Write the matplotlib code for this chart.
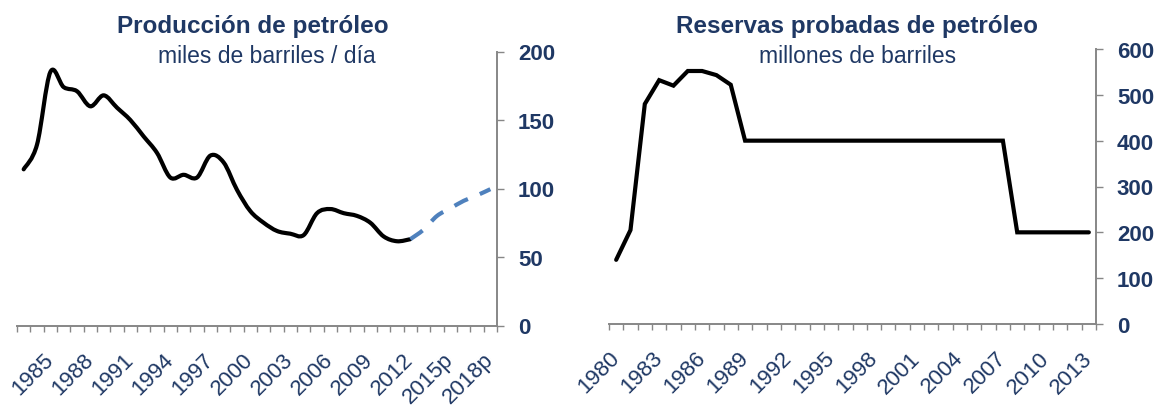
import matplotlib
matplotlib.use("Agg")
import matplotlib.pyplot as plt
from matplotlib.path import Path
from matplotlib.patches import PathPatch

plt.rcParams['font.family'] = ['Liberation Sans', 'DejaVu Sans']

# ---------------- data ----------------
prod_years = ['1983', '1984', '1985', '1986', '1987', '1988', '1989', '1990', '1991', '1992',
              '1993', '1994', '1995', '1996', '1997', '1998', '1999', '2000', '2001', '2002',
              '2003', '2004', '2005', '2006', '2007', '2008', '2009', '2010', '2011', '2012',
              '2013p', '2014p', '2015p', '2016p', '2017p', '2018p']
prod_hist = [114, 132, 185, 174, 171, 160, 168, 159, 150, 138,
             126, 108, 110, 108, 124, 119, 99, 83.5, 75, 69,
             67, 66, 82, 85, 82, 80, 75, 65, 61.5, 63]
prod_proj = [63, 70, 80, 85.5, 91, 95, 99.5]   # 2012 .. 2018p

res_years = [str(y) for y in range(1980, 2014)]
reserves = [140, 205, 480, 532, 520, 552, 552, 543, 522, 400,
            400, 400, 400, 400, 400, 400, 400, 400, 400, 400,
            400, 400, 400, 400, 400, 400, 400, 400, 200, 200,
            200, 200, 200, 200]

prod_yticks = [0, 50, 100, 150, 200]
res_yticks = [0, 100, 200, 300, 400, 500, 600]

NAVY = '#1F3864'
GRAY = '#878787'
BLUE = '#4F81BD'


def smooth_path(x, y):
    n = len(x)
    verts = [(x[0], y[0])]
    codes = [Path.MOVETO]
    for i in range(n - 1):
        xp, yp = (x[i - 1], y[i - 1]) if i > 0 else (x[i], y[i])
        xn, yn = (x[i + 2], y[i + 2]) if i + 2 < n else (x[i + 1], y[i + 1])
        c1 = (x[i] + (x[i + 1] - xp) / 6.0, y[i] + (y[i + 1] - yp) / 6.0)
        c2 = (x[i + 1] - (xn - x[i]) / 6.0, y[i + 1] - (yn - y[i]) / 6.0)
        verts += [c1, c2, (x[i + 1], y[i + 1])]
        codes += [Path.CURVE4] * 3
    return Path(verts, codes)


def style_axes(ax, labels, label_idx, yticks, ymax):
    n = len(labels)
    ax.set_xlim(-0.5, n - 0.5)
    ax.set_ylim(0, ymax)
    for s in ['top', 'left']:
        ax.spines[s].set_visible(False)
    for s in ['bottom', 'right']:
        ax.spines[s].set_color(GRAY)
        ax.spines[s].set_linewidth(1.4)
    ax.yaxis.tick_right()
    ax.set_yticks(yticks)
    ax.set_yticklabels([str(v) for v in yticks], fontsize=16, fontweight='bold', color=NAVY)
    ax.tick_params(axis='y', direction='out', length=5, width=1, color=GRAY, pad=10)
    ax.set_xticks([i for i in label_idx])
    ax.set_xticklabels([labels[i] for i in label_idx], rotation=45, ha='right',
                       va='center', rotation_mode='anchor', fontsize=16, color=NAVY)
    ax.tick_params(axis='x', which='major', length=0, pad=22)
    ax.set_xticks([i - 0.5 for i in range(n + 1)], minor=True)
    ax.tick_params(axis='x', which='minor', direction='out', length=4.5, width=1, color=GRAY)


fig = plt.figure(figsize=(11.7, 4.1), dpi=100)

# ---------------- left: production ----------------
ax1 = fig.add_axes([17 / 1170, 1 - 326.5 / 410, 480 / 1170, 274 / 410])
style_axes(ax1, prod_years, list(range(2, len(prod_years), 3)), prod_yticks, 200)
xh = list(range(len(prod_hist)))
ax1.add_patch(PathPatch(smooth_path(xh, prod_hist), fill=False, lw=3, ec='black',
                        capstyle='round', joinstyle='round'))
xp = list(range(len(prod_hist) - 1, len(prod_hist) - 1 + len(prod_proj)))
ax1.add_patch(PathPatch(smooth_path(xp, prod_proj), fill=False, lw=3, ec=BLUE,
                        linestyle=(0, (3.6, 3.1)), capstyle='butt'))

# ---------------- right: reserves ----------------
ax2 = fig.add_axes([609 / 1170, 1 - 325 / 410, 487 / 1170, 275 / 410])
style_axes(ax2, res_years, list(range(0, len(res_years), 3)), res_yticks, 600)
ax2.plot(range(len(reserves)), reserves, color='black', lw=3,
         solid_capstyle='round', solid_joinstyle='miter')

# ---------------- titles ----------------
fig.text(252.5 / 1170, 1 - 33 / 410, 'Producción de petróleo', ha='center', va='baseline',
         fontsize=17.5, fontweight='bold', color=NAVY)
fig.text(266.5 / 1170, 1 - 63 / 410, 'miles de barriles / día', ha='center', va='baseline',
         fontsize=16.5, color=NAVY)
fig.text(857 / 1170, 1 - 33 / 410, 'Reservas probadas de petróleo', ha='center', va='baseline',
         fontsize=17.5, fontweight='bold', color=NAVY)
fig.text(857.5 / 1170, 1 - 63 / 410, 'millones de barriles', ha='center', va='baseline',
         fontsize=16.5, color=NAVY)

fig.savefig('out.png', dpi=100)
